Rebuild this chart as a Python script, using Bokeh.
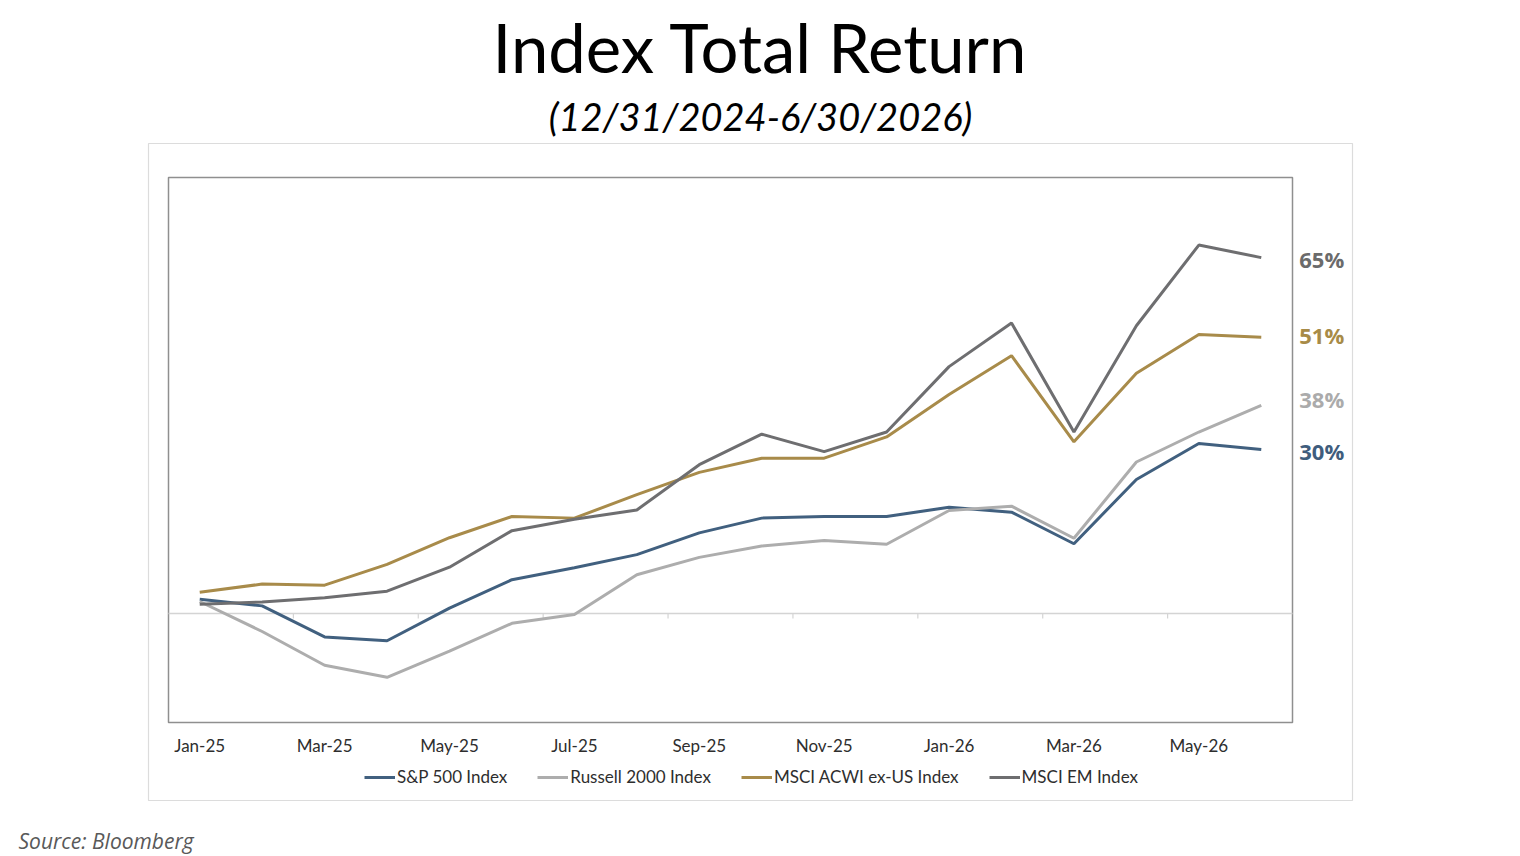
from bokeh.plotting import figure
from bokeh.models import (Range1d, Label, Legend, LegendItem, BoxAnnotation,
                          ColumnDataSource)
from bokeh.core.properties import value
from bokeh.embed import file_html
from bokeh.resources import INLINE

# ---------------- data ----------------
months = ["Jan-25", "Feb-25", "Mar-25", "Apr-25", "May-25", "Jun-25", "Jul-25", "Aug-25",
          "Sep-25", "Oct-25", "Nov-25", "Dec-25", "Jan-26", "Feb-26", "Mar-26", "Apr-26",
          "May-26", "Jun-26"]
sp500 = [2.6, 1.4, -4.3, -5.0, 1.0, 6.2, 8.4, 10.8, 14.8, 17.5, 17.8, 17.8, 19.5, 18.6,
         12.8, 24.6, 31.2, 30.1]
russell2000 = [2.2, -3.3, -9.5, -11.7, -6.9, -1.8, -0.2, 7.1, 10.3, 12.4, 13.4, 12.7, 18.9,
               19.7, 13.8, 27.8, 33.3, 38.2]
acwi_ex_us = [3.9, 5.4, 5.2, 9.0, 13.9, 17.8, 17.5, 21.8, 25.9, 28.5, 28.5, 32.4, 40.2,
              47.3, 31.5, 44.1, 51.2, 50.7]
msci_em = [1.7, 2.1, 2.9, 4.1, 8.5, 15.2, 17.3, 19.0, 27.3, 32.9, 29.7, 33.3, 45.3, 53.3,
           33.3, 52.8, 67.6, 65.3]

series_names = ["S&P 500 Index", "Russell 2000 Index", "MSCI ACWI ex-US Index", "MSCI EM Index"]
series_values = [sp500, russell2000, acwi_ex_us, msci_em]
series_colors = ["#41607F", "#ADADAD", "#A88B4A", "#6E6E70"]
label_colors = ["#3F5D7D", "#ABABAB", "#A88B47", "#6B6B6B"]
label_nudges = [-2, 6, 2, -1]   # small vertical pixel nudges of the end labels

title_text = "Index Total Return"
subtitle_text = "(12/31/2024-6/30/2026)"
source_text = "Source: Bloomberg"

# ---------------- geometry (pixels) ----------------
W, H = 1504, 856
PL, PR, PT, PB = 168, 1292, 177, 722          # inner plot box
X0, X1 = -0.5, len(months) - 0.5
Y0, Y1 = -20, 80
PPX = (PR - PL) / (X1 - X0)
PPY = (PB - PT) / (Y1 - Y0)


def dx(px):
    return X0 + (px - PL) / PPX


def dy(py):
    return Y1 - (py - PT) / PPY


p = figure(width=W, height=H, output_backend="svg", toolbar_location=None,
           x_range=Range1d(dx(0), dx(W)), y_range=Range1d(dy(H), dy(0)),
           x_axis_location=None, y_axis_location=None,
           min_border=0, min_border_left=0, min_border_right=0,
           min_border_top=0, min_border_bottom=0)
p.background_fill_color = "white"
p.border_fill_color = "white"
p.outline_line_color = None
p.xgrid.visible = False
p.ygrid.visible = False

# outer light box around the chart
p.add_layout(BoxAnnotation(left=dx(148), right=dx(1352), top=dy(143), bottom=dy(800),
                           fill_alpha=0, line_color="#DCDCDC", line_alpha=1,
                           line_width=1.2, level="underlay"))
# inner plot box
p.add_layout(BoxAnnotation(left=X0, right=X1, top=Y1, bottom=Y0,
                           fill_alpha=0, line_color="#8F8F8F", line_alpha=1,
                           line_width=1.5, level="underlay"))

# zero line with small ticks between months
p.segment(x0=[X0], y0=[0], x1=[X1], y1=[0], line_color="#D4D4D4", line_width=1.5)
tick_pos = [i + 0.5 for i in range(1, len(months) - 1, 2)]
p.segment(x0=tick_pos, y0=[0] * len(tick_pos), x1=tick_pos, y1=[-0.9] * len(tick_pos),
          line_color="#D4D4D4", line_width=1.2)

# month labels every other month (category axis labels)
tick_idx = list(range(0, len(months), 2))
p.text(x=tick_idx, y=[dy(745)] * len(tick_idx), text=[months[i] for i in tick_idx],
       text_align="center", text_baseline="alphabetic", text_font=value("Lato"),
       text_font_size="17px", text_color="#2E2E2E")

# series lines
src = ColumnDataSource(dict(x=list(range(len(months))), sp=sp500, ru=russell2000,
                            ac=acwi_ex_us, em=msci_em))
cols = ["sp", "ru", "ac", "em"]
items = []
for name, col, color in zip(series_names, cols, series_colors):
    r = p.line(x="x", y=col, source=src, line_color=color, line_width=3)
    items.append(LegendItem(label=name, renderers=[r]))

legend = Legend(items=items, orientation="horizontal", location=(364, H - 787),
                border_line_color=None, background_fill_alpha=0, padding=0, margin=0,
                spacing=30, glyph_width=31, glyph_height=20, label_height=20,
                label_standoff=2, label_text_font="Lato", label_text_font_size="17px",
                label_text_color="#2E2E2E")
p.add_layout(legend)

# end labels
last = len(months) - 1
for vals, color, nudge in zip(series_values, label_colors, label_nudges):
    p.add_layout(Label(x=last, y=vals[-1], text=f"{round(vals[-1])}%", x_offset=38,
                       y_offset=nudge, text_baseline="middle", text_align="left",
                       text_font="Open Sans", text_font_style="bold",
                       text_font_size="22px", text_color=color))

# titles and source
p.add_layout(Label(x=dx(760), y=dy(46), text=title_text, text_align="center",
                   text_baseline="alphabetic", text_font="Lato", text_font_size="67px",
                   text_color="#000000"))
p.add_layout(Label(x=dx(760), y=dy(115), text=subtitle_text, text_align="center",
                   text_baseline="alphabetic", text_font="Lato", text_font_style="italic",
                   text_font_size="38px", text_color="#000000"))
p.add_layout(Label(x=dx(18), y=dy(840), text=source_text, text_align="left",
                   text_baseline="alphabetic", text_font="Open Sans", text_font_style="italic",
                   text_font_size="21px", text_color="#595959"))

open("out.html", "w").write(file_html(p, INLINE))
